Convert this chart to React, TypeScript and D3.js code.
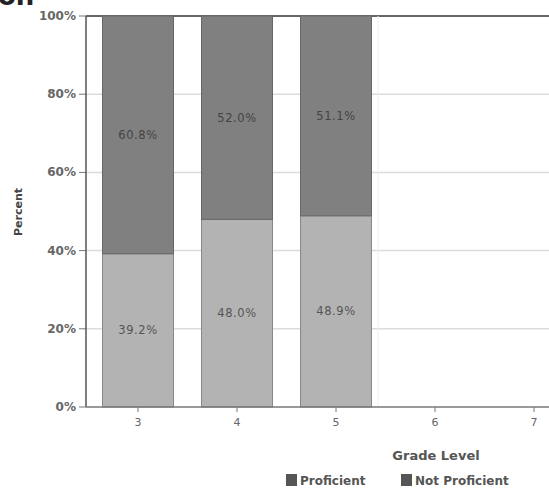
import React from "react";
import * as d3 from "d3";

const grades = [3, 4, 5];
const xTicks = [3, 4, 5, 6, 7];
const proficient = [39.2, 48.0, 48.9];
const notProficient = [60.8, 52.0, 51.1];
const yTicks = [0, 20, 40, 60, 80, 100];
const seriesNames = ["Proficient", "Not Proficient"];

export default function App() {
  const W = 549, H = 488;
  const x = d3.scaleLinear().domain([3, 7]).range([138, 534]);
  const y = d3.scaleLinear().domain([0, 100]).range([407, 16]);
  const barW = 71;
  const cLight = "#b3b3b3";
  const cDark = "#808080";
  const font = "'DejaVu Sans', Verdana, sans-serif";
  return (
    <svg width={W} height={H} style={{ position: "absolute", left: 0, top: 0 }} fontFamily={font}>
      <rect width={W} height={H} fill="#fff" />
      <text x={-2} y={5} fontSize={26} fontWeight="bold" fill="#222">on</text>
      {yTicks.map((t) => (
        <g key={t}>
          {t > 0 && t < 100 && (
            <line x1={86} x2={W} y1={y(t)} y2={y(t)} stroke="#dcdcdc" strokeWidth={1.5} />
          )}
          <line x1={79} x2={86} y1={y(t)} y2={y(t)} stroke="#777" />
          <text x={76} y={y(t) + 4} textAnchor="end" fontSize={12} fontWeight="bold" fill="#666">
            {t}%
          </text>
        </g>
      ))}
      <line x1={86} x2={W} y1={y(100)} y2={y(100)} stroke="#666" strokeWidth={2} />
      <line x1={378} x2={378} y1={y(100)} y2={y(0)} stroke="#eee" />
      {grades.map((g, i) => {
        const x0 = x(g) - barW / 2;
        return (
          <g key={g}>
            <rect x={x0} y={y(proficient[i])} width={barW} height={y(0) - y(proficient[i])} fill={cLight} stroke="#888" strokeWidth={1} />
            <rect x={x0} y={y(100)} width={barW} height={y(proficient[i]) - y(100)} fill={cDark} stroke="#666" strokeWidth={1} />
            <text x={x(g)} y={(y(0) + y(proficient[i])) / 2 + 4} textAnchor="middle" fontSize={11.5} letterSpacing={0.6} fill="#555">
              {proficient[i].toFixed(1)}%
            </text>
            <text x={x(g)} y={(y(100) + y(proficient[i])) / 2 + 4} textAnchor="middle" fontSize={11.5} letterSpacing={0.6} fill="#444">
              {notProficient[i].toFixed(1)}%
            </text>
          </g>
        );
      })}
      <line x1={86} x2={86} y1={y(100)} y2={y(0)} stroke="#555" strokeWidth={1.5} />
      <line x1={86} x2={W} y1={y(0)} y2={y(0)} stroke="#777" strokeWidth={1.5} />
      {xTicks.map((t) => (
        <g key={t}>
          <line x1={x(t)} x2={x(t)} y1={y(0)} y2={y(0) + 5} stroke="#777" />
          <text x={x(t)} y={y(0) + 19} textAnchor="middle" fontSize={11} fill="#666">{t}</text>
        </g>
      ))}
      <text x={436} y={460} textAnchor="middle" fontSize={13} fontWeight="bold" fill="#555">Grade Level</text>
      <text transform="translate(22,212) rotate(-90)" textAnchor="middle" fontSize={11} fontWeight="bold" fill="#444">Percent</text>
      <rect x={286} y={474} width={11} height={12} fill="#555" />
      <text x={300} y={485} fontSize={12} fontWeight="bold" fill="#555">{seriesNames[0]}</text>
      <rect x={401} y={474} width={11} height={12} fill="#555" />
      <text x={415} y={485} fontSize={12} fontWeight="bold" fill="#555">{seriesNames[1]}</text>
    </svg>
  );
}
